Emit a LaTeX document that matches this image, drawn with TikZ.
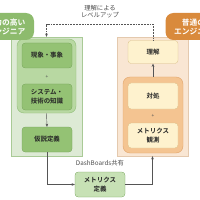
\documentclass[tikz,border=0pt]{standalone}
\usepackage{fontspec}
\setmainfont{Noto Sans CJK JP}[BoldFont={Noto Sans CJK JP Bold}]
\usetikzlibrary{positioning,arrows.meta}
\definecolor{PanelGreen}{HTML}{DDEAD5}
\definecolor{PanelGreenLine}{HTML}{A9CA96}
\definecolor{GroupGreen}{HTML}{B8D8A2}
\definecolor{GroupGreenLine}{HTML}{93BF7A}
\definecolor{ItemGreen}{HTML}{94C274}
\definecolor{ItemGreenLine}{HTML}{74A258}
\definecolor{LightGreen}{HTML}{C7E1B5}
\definecolor{TagGreen}{HTML}{8DBB6D}
\definecolor{PanelOrange}{HTML}{F9E6D3}
\definecolor{PanelOrangeLine}{HTML}{E4C9AE}
\definecolor{GroupOrange}{HTML}{F4C491}
\definecolor{GroupOrangeLine}{HTML}{E2A56C}
\definecolor{ItemCream}{HTML}{FEF2CE}
\definecolor{ItemCreamLine}{HTML}{D8BF86}
\definecolor{TagOrange}{HTML}{D98A3C}
\definecolor{LinkGray}{HTML}{555555}
\tikzset{
  panel/.style={draw, line width=0.4pt, minimum width=35.5mm, minimum height=59.5mm},
  grp/.style={draw, rounded corners=3.5mm, line width=0.6pt},
  item/.style={draw, rounded corners=1.6mm, line width=0.4pt, align=center,
    minimum width=25mm, font=\fontsize{9.2}{12.6}\selectfont\bfseries, text=black!85},
  tag/.style={rounded corners=4mm, text=white, align=center, minimum width=28mm,
    minimum height=13.5mm, font=\fontsize{11}{13}\selectfont\bfseries},
  plus/.style={text=LinkGray, font=\fontsize{7}{8}\selectfont},
  note/.style={text=black!70, align=center, font=\fontsize{9}{10.5}\selectfont},
  link/.style={draw=LinkGray, line width=0.6pt, -{Stealth[length=1.6mm,width=1.3mm]}}
}
\begin{document}
\begin{tikzpicture}[x=0.5mm, y=-0.5mm]
  \useasboundingbox (0,0) rectangle (200,200);

  % skilled side
  \node[panel, fill=PanelGreen, draw=PanelGreenLine] (lpanel) at (46.5,96.5) {};
  \node[grp, fill=GroupGreen, draw=GroupGreenLine, minimum width=29.5mm, minimum height=37mm] (lgroup) at (46.5,76) {};
  \node[item, fill=ItemGreen, draw=ItemGreenLine, minimum height=12.5mm] (genshou) at (47,55.5) {現象・事象};
  \node[plus] (lplus) at (47,77) {+};
  \node[item, fill=ItemGreen, draw=ItemGreenLine, minimum height=13mm] (chishiki) at (47,97) {システム・\\技術の知識};
  \node[item, fill=ItemGreen, draw=ItemGreenLine, minimum height=12.5mm] (kasetsu) at (47,139.5) {仮説定義};
  \node[tag, fill=TagGreen] (ltag) at (6,26.5) {能力の高い\\エンジニア};

  % ordinary side
  \node[panel, fill=PanelOrange, draw=PanelOrangeLine] (rpanel) at (152.5,96.5) {};
  \node[grp, fill=GroupOrange, draw=GroupOrangeLine, minimum width=30mm, minimum height=38mm] (rgroup) at (153,115) {};
  \node[item, fill=ItemCream, draw=ItemCreamLine, minimum height=11.5mm] (rikai) at (153,52) {理解};
  \node[item, fill=ItemCream, draw=ItemCreamLine, minimum height=13mm] (taisho) at (153,96) {対処};
  \node[plus] (rplus) at (153,116) {+};
  \node[item, fill=ItemCream, draw=ItemCreamLine, minimum height=12.5mm] (kansoku) at (153,135.5) {メトリクス\\観測};
  \node[tag, fill=TagOrange] (rtag) at (193.5,26.5) {普通の\\エンジニア};

  % shared metrics
  \node[item, fill=LightGreen, draw=ItemGreenLine, minimum height=12.5mm] (mdef) at (100,184.5) {メトリクス\\定義};
  \node[note] (share) at (100,163) {DashBoards共有};
  \node[note] (levelup) at (100,11.5) {理解による\\レベルアップ};
  \coordinate (topturn) at (100,24);

  \draw[link, dashed, dash pattern=on 1.2pt off 1pt] (rikai.north) |- (topturn) -| (lpanel.north);
  \draw[link] (lgroup.south) -- (kasetsu.north);
  \draw[link] (rgroup.north) -- (rikai.south);
  \draw[link] (kasetsu.south) |- (mdef.west);
  \draw[link] (mdef.east) -| (rpanel.south);
\end{tikzpicture}
\end{document}
